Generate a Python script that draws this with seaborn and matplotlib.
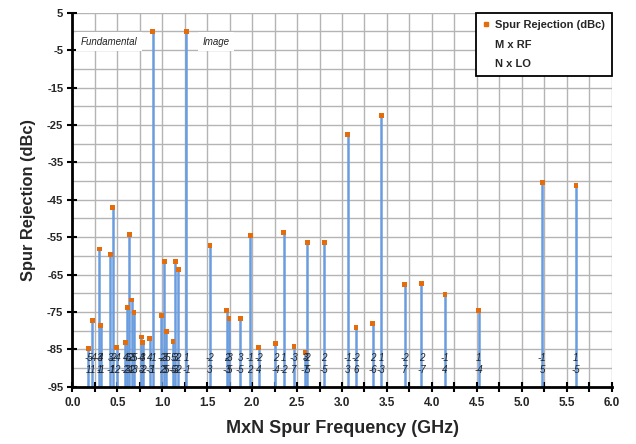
import numpy as np
import pandas as pd
import seaborn as sns
import matplotlib
matplotlib.use("Agg")
import matplotlib.pyplot as plt
from matplotlib.ticker import MultipleLocator, FixedLocator, FormatStrFormatter
from matplotlib.lines import Line2D

# ---- data ----
freq_ghz = [0.179, 0.224, 0.299, 0.318, 0.423, 0.448, 0.495, 0.588, 0.612, 0.635,
            0.660, 0.687, 0.766, 0.784, 0.859, 0.896, 0.990, 1.021, 1.046, 1.120,
            1.145, 1.177, 1.270, 1.531, 1.718, 1.743, 1.867, 1.979, 2.073, 2.259,
            2.353, 2.465, 2.589, 2.614, 2.801, 3.062, 3.156, 3.342, 3.436, 3.697,
            3.884, 4.145, 4.519, 5.228, 5.602]
rejection_dbc = [-84.7, -77.4, -58.2, -78.6, -59.6, -47.1, -84.6, -83.1, -73.9, -54.4,
                 -71.8, -75.2, -81.7, -83.1, -82.2, 0.0, -76.0, -61.5, -80.3, -83.0,
                 -61.5, -63.6, 0.0, -57.3, -74.7, -76.8, -76.8, -54.6, -84.5, -83.5,
                 -53.7, -84.3, -85.8, -56.5, -56.5, -27.5, -79.1, -78.1, -22.5, -67.7,
                 -67.4, -70.4, -74.6, -40.3, -41.3]
m_rf = [-5, -4, -3, 4, 3, -2, -4, 4, -5, 2,
        -3, 5, -4, 3, 4, -1, -2, -3, -5, 5,
        3, 2, 1, -2, 2, -3, 3, -1, -2, 2,
        1, -3, 3, -2, 2, -1, -2, 2, 1, -2,
        2, -1, 1, -1, 1]
n_lo = [1, 1, 1, -1, -1, 1, 2, -2, 3, -1,
        2, -3, 3, -2, -3, 1, 2, 3, 5, -5,
        -3, -2, -1, 3, -3, 5, -5, 2, 4, -4,
        -2, 7, -7, 5, -5, 3, 6, -6, -3, 7,
        -7, 4, -4, 5, -5]
x_ticks = [0.0, 0.5, 1.0, 1.5, 2.0, 2.5, 3.0, 3.5, 4.0, 4.5, 5.0, 5.5, 6.0]
y_ticks = [5, -5, -15, -25, -35, -45, -55, -65, -75, -85, -95]

df = pd.DataFrame({"freq": freq_ghz, "rej": rejection_dbc, "M": m_rf, "N": n_lo})

sns.set_theme(style="white")
plt.rcParams["font.family"] = ["Liberation Sans", "DejaVu Sans"]
plt.rcParams["axes.unicode_minus"] = False

BLUE = "#6a9de0"
ORANGE = "#e46c0a"
GRID = "#b4b4b4"

fig = plt.figure(figsize=(6.36, 4.44), dpi=100)
ax = fig.add_axes([0.1137, 0.129, 0.8481, 0.8424])

ymin, ymax = -95, 5
ax.set_xlim(0, 6)
ax.set_ylim(ymin, ymax)

# stems
ax.vlines(df["freq"], ymin, df["rej"], color=BLUE, lw=1.8, zorder=2)
# markers
sns.scatterplot(data=df, x="freq", y="rej", marker="s", s=12, color=ORANGE,
                edgecolor="none", linewidth=0, ax=ax, zorder=3, legend=False)

# M / N labels
for x, m, n in zip(df["freq"], df["M"], df["N"]):
    ax.text(x, -87.2, f"{m}", ha="center", va="center", fontsize=7,
            style="italic", color="#222222", zorder=4)
    ax.text(x, -90.4, f"{n}", ha="center", va="center", fontsize=7,
            style="italic", color="#222222", zorder=4)

# annotations
box = dict(boxstyle="square,pad=0.45", fc="white", ec="none")
ax.text(0.41, -2.8, "Fundamental", ha="center", va="center", fontsize=7,
        style="italic", color="#222222", bbox=box, zorder=4)
ax.text(1.60, -2.8, "Image", ha="center", va="center", fontsize=7,
        style="italic", color="#222222", bbox=box, zorder=4)

# ticks and grid
ax.xaxis.set_major_locator(FixedLocator(x_ticks))
ax.xaxis.set_minor_locator(MultipleLocator(0.25))
ax.xaxis.set_major_formatter(FormatStrFormatter("%.1f"))
ax.yaxis.set_major_locator(FixedLocator(y_ticks))
ax.yaxis.set_minor_locator(FixedLocator(np.arange(-90, 1, 10)))
ax.grid(True, which="both", color=GRID, lw=1.0, zorder=0)
ax.set_axisbelow(True)

ax.tick_params(axis="both", which="both", direction="inout", color="black",
               bottom=True, left=True)
ax.tick_params(axis="x", which="major", length=7, width=1.5, pad=4, labelsize=8.5)
ax.tick_params(axis="x", which="minor", length=7, width=1.5)
ax.tick_params(axis="y", which="major", length=7, width=1.5, pad=3, labelsize=8)
ax.tick_params(axis="y", which="minor", length=0)
for lab in ax.get_xticklabels() + ax.get_yticklabels():
    lab.set_fontweight("bold")

for s in ["top", "right"]:
    ax.spines[s].set_visible(False)
for s in ["left", "bottom"]:
    ax.spines[s].set_color("black")
    ax.spines[s].set_linewidth(2)

ax.set_xlabel("MxN Spur Frequency (GHz)", fontsize=13, fontweight="bold", labelpad=8)
ax.set_ylabel("Spur Rejection (dBc)", fontsize=11.8, fontweight="bold", labelpad=8)

# legend
handles = [Line2D([], [], marker="s", color=ORANGE, ls="none", markersize=3.5),
           Line2D([], [], ls="none"),
           Line2D([], [], ls="none")]
labels = ["Spur Rejection (dBc)", "M x RF", "N x LO"]
leg = ax.legend(handles, labels, loc="upper right", bbox_to_anchor=(1.0, 0.998),
                borderaxespad=0, frameon=True, fancybox=False, framealpha=1,
                edgecolor="black", handlelength=0.6, handletextpad=0.5,
                labelspacing=0.85, borderpad=0.6,
                prop={"weight": "bold", "size": 8})
leg.get_frame().set_linewidth(1.3)
leg.set_zorder(5)

fig.savefig("out.png", dpi=100)
